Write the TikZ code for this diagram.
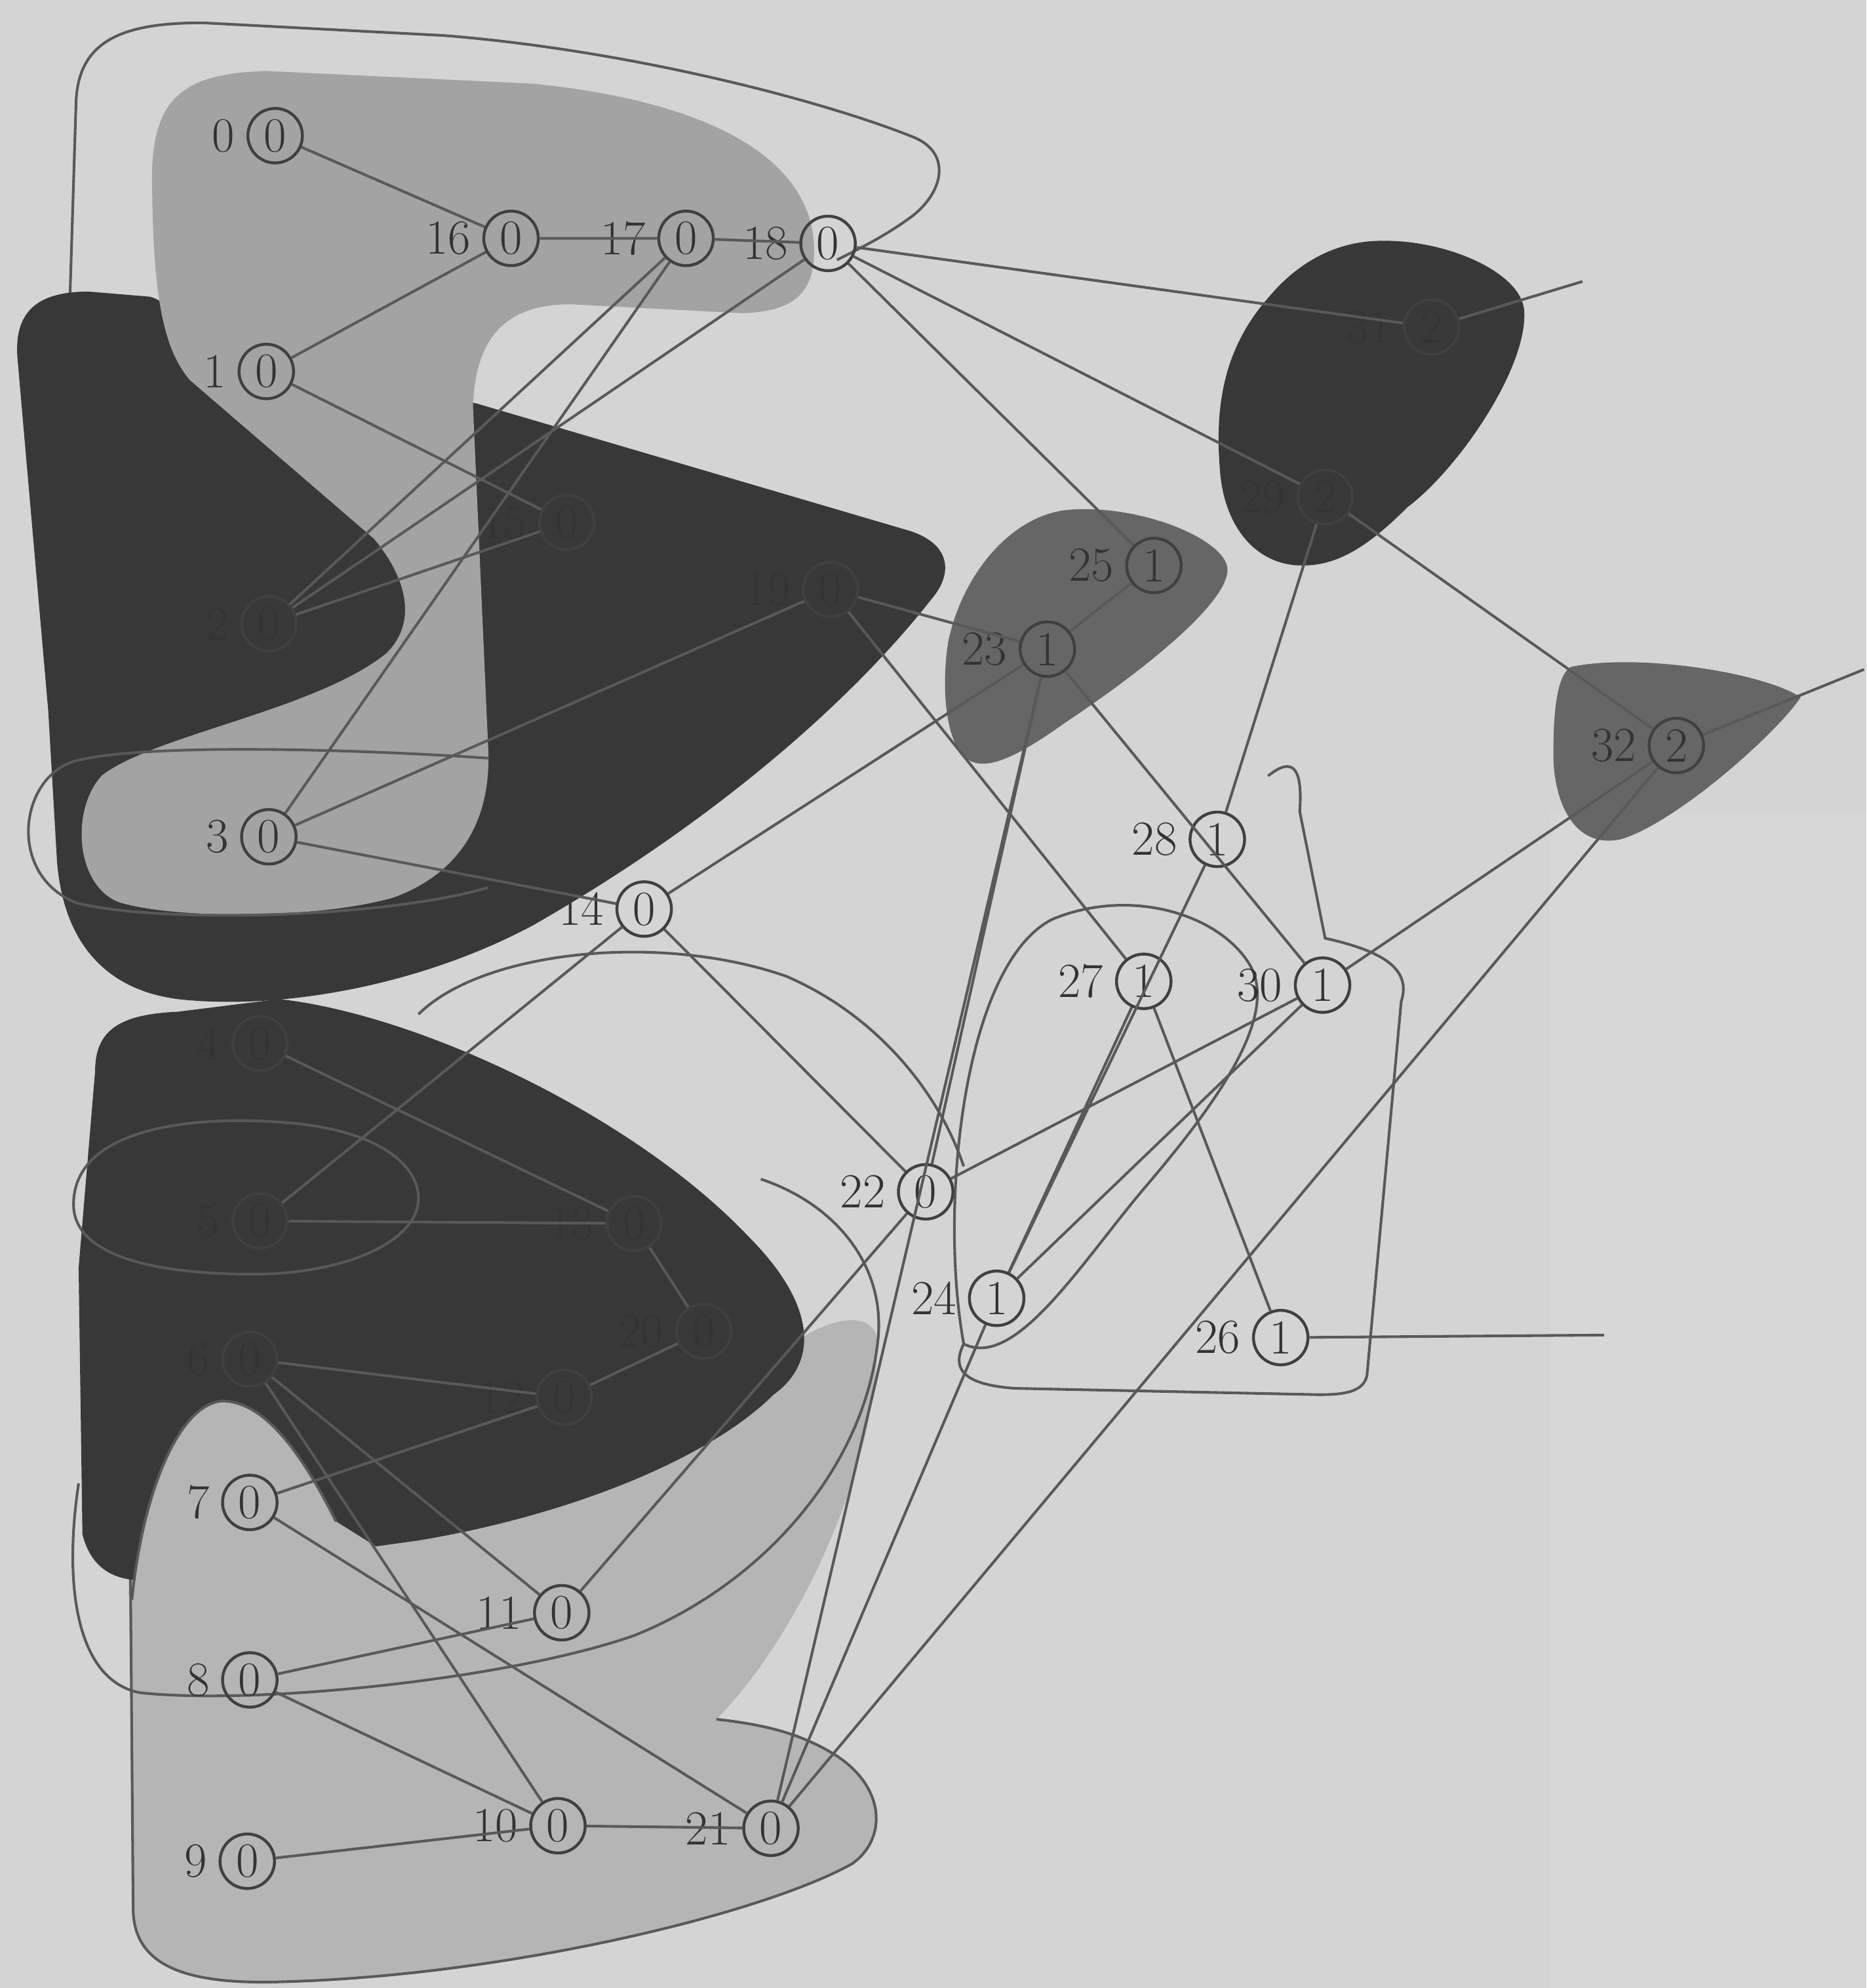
\documentclass[tikz,border=0pt]{standalone}
\begin{document}
\begin{tikzpicture}[x=0.02cm,y=-0.02cm,
 vx/.style={circle, draw=black!75, line width=1.3pt, minimum size=0.86cm, inner sep=0pt, font=\fontsize{22}{24}\selectfont, text=black!80},
 lab/.style={font=\fontsize{22}{24}\selectfont, text=black!80, inner sep=1pt, label distance=4pt},
 ed/.style={draw=black!65, line width=1.2pt},
 ol/.style={draw=black!65, line width=1.2pt},
 bgc/.style={fill=black!17},
 lightreg/.style={fill=black!36},
 lowreg/.style={fill=black!29},
 darkreg/.style={fill=black!78},
 midreg/.style={fill=black!60}]
\useasboundingbox (0,0) rectangle (1472,1568);
\fill[bgc] (0,0) rectangle (1472,1568);
\fill[black!15.5] (1222,640) rectangle (1472,1568);
% top outline
\draw[ol] (55,240) -- (60,80) .. controls (62,30) and (100,18) .. (160,18) -- (350,28) .. controls (500,40) and (650,80) .. (720,108) .. controls (750,120) and (745,150) .. (720,170) .. controls (700,185) and (680,195) .. (660,205);
% lower light region
\path[lowreg] (100,1130) -- (105,1505) .. controls (105,1550) and (145,1566) .. (225,1563) .. controls (400,1558) and (600,1510) .. (672,1470) .. controls (700,1450) and (698,1410) .. (660,1385) .. controls (630,1366) and (600,1360) .. (565,1356) .. controls (630,1290) and (690,1160) .. (692,1060) .. controls (692,1035) and (660,1035) .. (625,1060) -- (100,1100) -- cycle;
\draw[ol] (102,1130) -- (105,1505) .. controls (105,1550) and (145,1566) .. (225,1563) .. controls (400,1558) and (600,1510) .. (672,1470) .. controls (700,1450) and (698,1410) .. (660,1385) .. controls (630,1366) and (600,1360) .. (565,1356);
% big dark region (upper)
\path[darkreg] (14,285) .. controls (10,245) and (30,230) .. (70,230) -- (118,234) .. controls (135,238) and (150,262) .. (165,285) -- (375,318) -- (715,418) .. controls (750,428) and (752,452) .. (735,472) .. controls (670,555) and (560,650) .. (420,730) .. controls (330,778) and (220,797) .. (140,788) .. controls (80,780) and (50,740) .. (45,680) -- (38,560) -- cycle;
% light region (top + strip + region of 3)
\path[lightreg] (120,150) .. controls (118,80) and (140,58) .. (210,56) -- (420,66) .. controls (560,80) and (640,125) .. (642,195) .. controls (643,232) and (625,246) .. (585,247) -- (450,240) .. controls (400,240) and (375,265) .. (373,320) -- (385,590) .. controls (388,650) and (360,690) .. (310,708) .. controls (250,725) and (140,725) .. (95,712) .. controls (60,700) and (55,640) .. (80,612) .. controls (120,580) and (250,560) .. (305,515) .. controls (330,490) and (320,455) .. (295,425) -- (150,300) .. controls (128,275) and (121,230) .. (120,150) -- cycle;
% lower dark region
\path[darkreg] (75,845) .. controls (75,812) and (95,800) .. (140,798) -- (220,788) .. controls (330,800) and (500,880) .. (590,975) .. controls (645,1030) and (645,1075) .. (610,1100) .. controls (560,1150) and (450,1195) .. (330,1215) -- (150,1240) .. controls (110,1252) and (75,1250) .. (65,1210) -- (62,1000) -- cycle;
% light pocket
\path[lowreg] (175,1105) .. controls (210,1105) and (240,1150) .. (265,1200) -- (300,1222) -- (104,1262) .. controls (112,1180) and (140,1108) .. (175,1105) -- cycle;
\draw[ol] (104,1262) .. controls (112,1180) and (140,1108) .. (175,1105) .. controls (210,1105) and (240,1150) .. (265,1200);
% right blobs
\path[darkreg] (1086,190) .. controls (1140,188) and (1200,215) .. (1202,245) .. controls (1205,290) and (1150,370) .. (1110,400) .. controls (1080,430) and (1055,447) .. (1025,446) .. controls (990,445) and (965,415) .. (962,370) .. controls (958,320) and (965,275) .. (1000,235) .. controls (1025,205) and (1055,191) .. (1086,190) -- cycle;
\path[midreg] (844,402) .. controls (900,398) and (965,425) .. (968,448) .. controls (970,475) and (900,530) .. (840,570) .. controls (805,595) and (780,608) .. (765,600) .. controls (745,590) and (742,540) .. (748,505) .. controls (760,450) and (800,405) .. (844,402) -- cycle;
\path[midreg] (1239,526) .. controls (1290,515) and (1390,530) .. (1420,550) .. controls (1400,580) and (1320,650) .. (1278,662) .. controls (1240,670) and (1225,630) .. (1225,595) .. controls (1225,560) and (1228,532) .. (1239,526) -- cycle;
% outlines
\draw[ol] (385,598) .. controls (300,592) and (120,585) .. (60,600) .. controls (15,612) and (5,690) .. (60,712) .. controls (120,728) and (300,725) .. (385,700);
\draw[ol] (58,950) .. controls (58,890) and (150,880) .. (220,885) .. controls (300,890) and (330,920) .. (330,945) .. controls (330,980) and (270,1005) .. (200,1005) .. controls (120,1005) and (58,990) .. (58,950) -- cycle;
\draw[ol] (600,930) .. controls (660,950) and (700,1000) .. (692,1060) .. controls (680,1160) and (600,1250) .. (500,1290) .. controls (400,1325) and (200,1345) .. (110,1335) .. controls (60,1325) and (50,1250) .. (62,1170);
\draw[ol] (330,800) .. controls (380,750) and (520,735) .. (620,770) .. controls (690,800) and (740,860) .. (760,920);
\draw[ol] (760,1060) .. controls (740,950) and (760,760) .. (830,725) .. controls (890,700) and (960,720) .. (985,760) .. controls (1010,800) and (960,870) .. (900,940) .. controls (850,1000) and (800,1080) .. (760,1060) -- cycle;
\draw[ol] (1000,612) .. controls (1015,600) and (1028,598) .. (1025,640) -- (1045,740) .. controls (1080,748) and (1115,760) .. (1105,790) -- (1078,1085) .. controls (1075,1098) and (1060,1100) .. (1040,1100) -- (800,1095) .. controls (760,1092) and (750,1080) .. (760,1060);
% nodes
\node[vx, label={[lab]left:0}] (n0) at (217,107) {0};
\node[vx, label={[lab]left:16}] (n16) at (403,188) {0};
\node[vx, label={[lab]left:17}] (n17) at (541,188) {0};
\node[vx, label={[lab]left:18}] (n18) at (653,192) {0};
\node[vx, label={[lab]left:1}] (n1) at (210,293) {0};
\node[vx, label={[lab]left:2}] (n2) at (212,492) {0};
\node[vx, label={[lab]left:15}] (n15) at (447,412) {0};
\node[vx, label={[lab]left:19}] (n19) at (655,465) {0};
\node[vx, label={[lab]left:3}] (n3) at (212,660) {0};
\node[vx, label={[lab]left:14}] (n14) at (508,717) {0};
\node[vx, label={[lab]left:4}] (n4) at (205,823) {0};
\node[vx, label={[lab]left:5}] (n5) at (205,963) {0};
\node[vx, label={[lab]left:13}] (n13) at (500,965) {0};
\node[vx, label={[lab]left:20}] (n20) at (555,1050) {0};
\node[vx, label={[lab]left:6}] (n6) at (197,1072) {0};
\node[vx, label={[lab]left:12}] (n12) at (445,1102) {0};
\node[vx, label={[lab]left:7}] (n7) at (197,1185) {0};
\node[vx, label={[lab]left:11}] (n11) at (443,1272) {0};
\node[vx, label={[lab]left:8}] (n8) at (197,1325) {0};
\node[vx, label={[lab]left:10}] (n10) at (440,1440) {0};
\node[vx, label={[lab]left:21}] (n21) at (608,1442) {0};
\node[vx, label={[lab]left:9}] (n9) at (195,1468) {0};
\node[vx, label={[lab]left:22}] (n22) at (730,940) {0};
\node[vx, label={[lab]left:25}] (n25) at (910,446) {1};
\node[vx, label={[lab]left:23}] (n23) at (826,512) {1};
\node[vx, label={[lab]left:29}] (n29) at (1045,392) {2};
\node[vx, label={[lab]left:31}] (n31) at (1129,258) {2};
\node[vx, label={[lab]left:32}] (n32) at (1322,588) {2};
\node[vx, label={[lab]left:28}] (n28) at (960,662) {1};
\node[vx, label={[lab]left:27}] (n27) at (902,774) {1};
\node[vx, label={[lab]left:30}] (n30) at (1043,777) {1};
\node[vx, label={[lab]left:24}] (n24) at (786,1024) {1};
\node[vx, label={[lab]left:26}] (n26) at (1010,1055) {1};
\coordinate (f1) at (1248,222);
\coordinate (f2) at (1470,528);
\coordinate (f3) at (1265,1053);
% edges
\draw[ed] (n0)--(n16) (n16)--(n17) (n17)--(n18) (n1)--(n16) (n1)--(n15)
 (n17)--(n3) (n18)--(n2) (n17)--(n2) (n18)--(n29) (n18)--(n25) (n18)--(n31) (n31)--(f1)
 (n3)--(n14) (n3)--(n19) (n2)--(n15) (n19)--(n23) (n5)--(n14) (n14)--(n22) (n14)--(n23)
 (n29)--(n32) (n32)--(f2) (n29)--(n28) (n25)--(n23) (n23)--(n30) (n23)--(n22) (n23)--(n21)
 (n24)--(n28) (n27)--(n26) (n26)--(f3) (n22)--(n30) (n30)--(n32) (n21)--(n32) (n30)--(n24)
 (n27)--(n24) (n21)--(n24) (n19)--(n27)
 (n4)--(n13) (n5)--(n13) (n13)--(n20) (n12)--(n20) (n6)--(n12) (n6)--(n10) (n6)--(n11)
 (n7)--(n12) (n7)--(n21) (n8)--(n11) (n8)--(n10) (n9)--(n10) (n10)--(n21) (n11)--(n22);
\end{tikzpicture}
\end{document}
